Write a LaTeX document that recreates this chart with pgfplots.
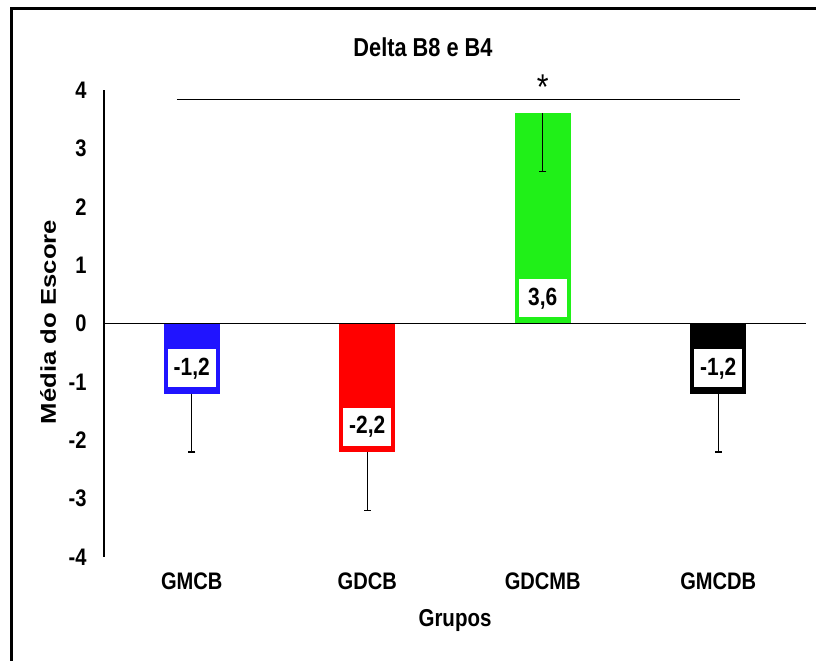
\documentclass[border=0pt]{standalone}
\usepackage{fontspec}
\setmainfont{Liberation Sans}[FakeStretch=0.84]
\newfontfamily\ylabfont{Liberation Sans}[FakeStretch=1.2]
\usepackage{pgfplots}
\pgfplotsset{compat=1.18}
\definecolor{cblue}{RGB}{32,20,255}
\definecolor{cred}{RGB}{255,0,0}
\definecolor{cgreen}{RGB}{32,240,24}
\begin{document}
\begin{tikzpicture}[x=1bp,y=1bp]
\begin{axis}[
  at={(104bp,104bp)}, anchor=south west,
  scale only axis, width=702bp, height=467bp,
  xmin=-0.5, xmax=3.5, ymin=-4, ymax=4,
  clip=false,
  axis lines*=left,
  x axis line style={draw=none},
  y axis line style={black, line width=1.2bp},
  major tick length=0pt,
  ytick={-4,-3,-2,-1,0,1,2,3,4},
  yticklabels={-4,-3,-2,-1,0,1,2,3,4},
  xtick={0,1,2,3},
  xticklabels={GMCB,GDCB,GDCMB,GMCDB},
  yticklabel style={font=\bfseries\fontsize{24}{28}\selectfont, anchor=east, xshift=-14bp},
  xticklabel style={font=\bfseries\fontsize{24}{28}\selectfont, anchor=north, yshift=-12bp},
]
\addplot[ybar, bar width=56bp, bar shift=0pt, fill=cblue, draw=none,
  error bars/.cd, y dir=minus, y explicit,
  error bar style={black, line width=1.3bp},
  error mark options={rotate=90, mark size=3.5bp, black, line width=1.3bp}]
  coordinates {(0,-1.2) +- (0,1.0)};
\addplot[ybar, bar width=56bp, bar shift=0pt, fill=cred, draw=none,
  error bars/.cd, y dir=minus, y explicit,
  error bar style={black, line width=1.3bp},
  error mark options={rotate=90, mark size=3.5bp, black, line width=1.3bp}]
  coordinates {(1,-2.2) +- (0,1.0)};
\addplot[ybar, bar width=56bp, bar shift=0pt, fill=cgreen, draw=none,
  error bars/.cd, y dir=minus, y explicit,
  error bar style={black, line width=1.3bp},
  error mark options={rotate=90, mark size=3.5bp, black, line width=1.3bp}]
  coordinates {(2,3.6) +- (0,1.0)};
\addplot[ybar, bar width=56bp, bar shift=0pt, fill=black, draw=none,
  error bars/.cd, y dir=minus, y explicit,
  error bar style={black, line width=1.3bp},
  error mark options={rotate=90, mark size=3.5bp, black, line width=1.3bp}]
  coordinates {(3,-1.2) +- (0,1.0)};
% zero line
\draw[black, line width=1.8bp] (axis cs:-0.5,0) -- (axis cs:3.5,0);
% value labels
\addplot[draw=none, mark=none, nodes near coords, point meta=explicit symbolic,
  every node near coord/.append style={font=\bfseries\fontsize{25}{27}\selectfont,
    fill=white, anchor=south, yshift=6bp, minimum width=48bp, minimum height=38bp, inner sep=0pt}]
  table[x=x, y=y, meta=lab, row sep=\\] {
  x y lab \\
  0 -1.2 {-1,2} \\
  1 -2.2 {-2,2} \\
  2 0 {3,6} \\
  3 -1.2 {-1,2} \\
  };
% significance bar
\addplot[black, line width=1.3bp, mark=none] coordinates {(-0.085,3.84) (3.125,3.84)};
\node[font=\fontsize{36}{36}\selectfont, anchor=base] at (axis cs:2,3.84) {*};
\end{axis}
\node[font=\bfseries\fontsize{26}{30}\selectfont] at (423,614) {Delta B8 e B4};
\node[rotate=90, font=\ylabfont\bfseries\fontsize{21.5}{26}\selectfont] at (48,339) {Média do Escore};
\node[font=\bfseries\fontsize{24.5}{28}\selectfont] at (455,40) {Grupos};
\draw[line width=3bp] (11,0) -- (11,652) -- (816,652);
\pgfresetboundingbox
\useasboundingbox (0,0) rectangle (816,661);
\end{tikzpicture}
\end{document}
